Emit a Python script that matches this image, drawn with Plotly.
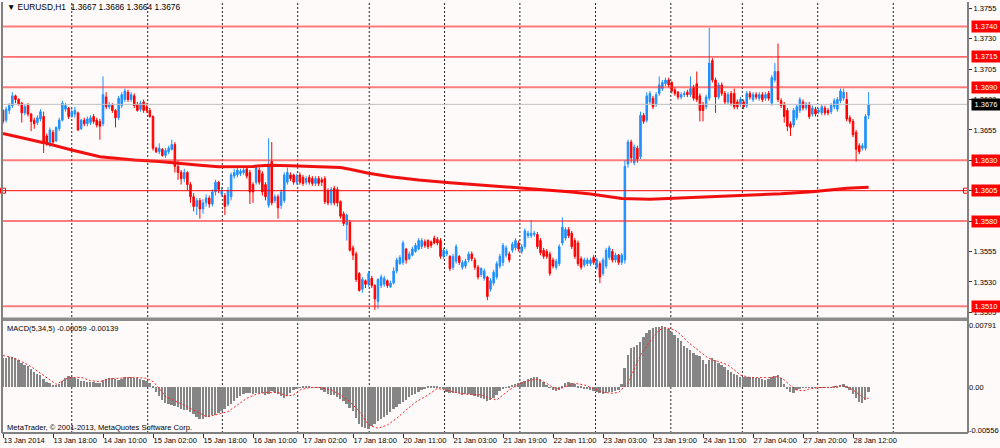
import plotly.graph_objects as go

# ---------------- DATA (prices in pips above 1.3500, MACD in 1e-5) ----------------
BASE = 1.35

open_pips = [
    171,163,171,175,183,180,177,169,175,168, 163,161,164,166,150,143,153,146,156,163,
    172,173,166,168,169,156,163,160,161,166, 163,162,160,182,174,175,171,165,175,180,
    186,180,183,176,172,178,174,171,166,140, 137,139,134,137,139,143,125,120,115,120,
    110,100,92,97,90,95,99,94,104,112, 102,101,94,100,117,118,119,120,123,120,
    110,112,122,119,110,93,129,97,100,93, 97,112,118,118,112,118,116,112,116,115,
    111,115,114,115,105,95,107,106,96,86, 77,79,58,53,37,24,31,28,33,27,
    14,27,28,31,26,29,39,45,46,57, 49,52,55,57,59,63,64,63,66,65,
    64,51,53,51,42,47,51,42,43,48, 53,48,42,36,33,34,24,29,34,43,
    46,52,53,56,58,62,55,59,68,68, 69,69,64,56,55,53,48,42,45,62,
    66,73,70,64,62,49,44,45,45,50, 42,45,37,43,50,55,48,52,46,48,
    127,145,128,140,133,167,163,178,181,176, 185,189,193,196,194,188,186,182,184,186,
    184,190,193,183,176,174,181,212,196,182, 192,185,178,185,185,178,176,178,175,185,
    180,184,181,184,181,185,177,196,203,179, 176,171,160,159,165,171,178,173,176,168,
    172,170,169,173,171,170,174,172,179,181, 180,165,162,153,142,140,140,167]

high_pips = [
    172,174,177,186,184,181,178,176,177,169, 165,167,172,170,152,157,155,158,165,179,
    177,174,172,174,170,164,165,166,167,168, 165,164,199,186,178,177,172,183,186,189,
    188,186,185,178,179,180,177,173,167,141, 144,140,140,142,147,145,130,122,123,121,
    112,103,99,99,98,102,101,106,114,113, 108,103,108,120,123,124,123,124,125,122,
    112,126,124,121,112,148,145,102,102,106, 120,124,120,119,119,120,118,117,118,117,
    117,117,116,117,107,108,109,108,97,88, 86,81,60,55,38,34,32,39,35,28,
    33,36,35,32,31,42,50,52,64,58, 55,59,62,66,66,65,65,64,68,67,
    66,58,57,52,53,61,52,48,49,55, 55,50,44,42,41,35,33,40,47,53,
    62,60,55,63,66,64,61,74,72,81, 72,71,66,58,57,55,50,49,61,83,
    75,75,72,66,64,51,50,50,50,52, 50,47,50,58,60,57,54,53,54,130,
    147,147,143,142,170,169,186,187,183,186, 199,196,198,198,195,190,187,186,187,188,
    199,192,203,185,178,184,239,214,198,194, 194,187,186,187,189,180,182,180,187,187,
    186,186,186,186,186,187,200,210,226,181, 178,173,162,173,176,182,180,178,178,175,
    174,173,176,175,173,177,181,182,189,189, 186,167,164,155,144,144,168,186]

low_pips = [
    160,161,168,173,177,175,161,167,166,154, 156,159,162,136,142,141,143,145,154,162,
    170,164,165,165,154,155,158,158,159,160, 157,147,158,172,172,169,157,163,173,178,
    178,178,173,170,170,169,169,165,138,136, 135,133,132,135,138,120,114,110,112,105,
    95,88,85,82,86,92,91,92,101,103, 100,85,92,97,115,116,117,118,115,94,
    95,110,110,101,97,91,93,95,82,90, 95,110,113,110,110,110,109,110,110,109,
    109,109,109,94,93,93,93,92,82,76, 64,55,48,30,22,21,25,26,25,7,
    8,25,26,25,25,28,37,44,44,45, 48,51,54,56,57,58,57,58,61,60,
    49,49,51,39,40,45,44,40,41,46, 47,40,32,34,31,15,22,27,32,41,
    43,50,46,54,56,55,53,57,66,66, 67,57,52,49,49,35,41,40,43,60,
    64,66,57,49,43,40,42,43,43,44, 40,29,35,41,48,46,46,44,44,45,
    124,128,126,128,131,160,161,176,172,174, 183,187,191,190,185,183,180,180,182,182,
    182,179,178,162,162,172,179,194,169,180, 183,176,176,175,172,172,174,172,173,180,
    178,180,179,178,179,179,175,194,178,173, 161,154,150,157,163,169,171,171,164,166,
    166,168,167,167,167,168,172,170,177,179, 162,160,149,129,135,138,138,164]

close_pips = [
    162,172,175,183,180,176,169,174,168,162, 160,165,170,145,144,155,145,157,163,177,
    175,166,170,171,155,163,160,164,165,162, 159,158,184,174,176,171,165,181,184,187,
    180,184,175,171,177,171,171,166,140,137, 140,134,138,140,143,125,120,115,120,110,
    100,92,97,90,95,99,94,104,112,106, 105,92,105,118,120,122,121,122,117,104,
    104,124,112,104,100,126,95,100,91,104, 118,120,115,112,117,112,111,115,112,111,
    115,111,112,96,95,106,95,95,84,78, 85,56,52,32,23,32,28,37,27,16,
    32,34,33,27,29,39,48,50,62,48, 53,57,60,64,64,60,59,60,62,62,
    51,56,55,41,51,59,46,46,47,53, 49,42,34,41,39,18,31,38,45,51,
    60,58,48,61,64,57,59,72,70,70, 70,59,54,51,51,37,43,47,59,75,
    73,68,59,51,45,42,48,48,48,46, 48,34,48,56,58,48,52,46,52,125,
    145,132,141,131,167,162,183,185,174,184, 192,194,196,192,187,185,182,184,185,184,
    189,181,180,171,171,182,210,196,182,192, 185,178,184,177,174,174,180,174,185,182,
    184,182,184,180,184,181,198,203,180,175, 166,158,157,171,174,180,173,176,166,173,
    168,171,174,169,169,175,179,180,187,186, 164,162,151,139,137,142,166,176]

# moving average (thick red line) read at selected bars
ma_bars = [0, 13, 22, 31, 42, 50, 63, 69, 80, 85, 92, 101, 108, 111, 117, 124, 133,
           143, 153, 162, 172, 181, 188, 194, 198, 207, 217, 227, 238, 249, 259, 270, 277]
ma_pips = [152, 144.5, 138.5, 133, 130.3, 129, 126, 124.7, 125, 126, 125.5, 124.7, 124,
           122.6, 119.3, 116.5, 113.8, 111.6, 109.7, 107.8, 106.4, 104.2, 102.3, 100,
           98.5, 98, 99, 100.5, 101.5, 102.5, 104.2, 107, 107.8]

# MACD(5,34,5) main histogram, 1e-5 units
macd_main = [
    372,372,385,385,372,351,317,287,270,235, 201,175,154,111,73,51,30,30,47,81,
    120,141,137,124,103,86,81,73,73,73, 60,51,98,107,116,116,107,90,107,128,
    137,133,124,120,103,94,86,51,21,-60, -111,-163,-197,-214,-223,-235,-257,-274,-287,-295,
    -312,-338,-377,-402,-407,-381,-377,-360,-351,-325, -300,-274,-244,-214,-171,-137,-111,-90,-77,-68,
    -86,-73,-68,-73,-98,-81,-51,-56,-81,-111, -137,-116,-73,-34,-13,-3,4,4,4,2,
    -2,-9,-30,-60,-86,-98,-103,-124,-146,-180, -218,-261,-308,-398,-471,-509,-522,-531,-492,-475,
    -432,-411,-385,-351,-321,-278,-248,-214,-188,-158, -128,-103,-86,-56,-34,-13,4,17,21,10,
    -5,-13,-64,-77,-68,-68,-77,-94,-90,-86, -94,-111,-124,-133,-146,-171,-163,-141,-98,-47,
    -21,-4,17,30,47,56,68,86,107,120, 133,133,103,68,30,-3,-30,-43,-38,4,
    51,68,60,43,17,4,-13,-21,-34,-47, -64,-77,-90,-77,-64,-64,-51,-30,38,244,
    415,500,522,539,586,650,702,736,758,770, 779,791,770,745,710,676,638,595,535,509,
    475,445,415,398,355,304,351,377,355,312, 282,257,218,193,175,154,137,137,137,128,
    128,124,124,111,98,103,128,150,154,116, 47,-17,-56,-68,-38,-17,-4,-4,-4,-4,
    -4,-4,-4,-9,-9,2,13,21,30,43, 17,-30,-86,-141,-188,-201,-163,-59]

# MACD signal line read at selected bars, 1e-5 units
sig_bars = [0,2,5,9,12,15,17,19,21,25, 28,31,34,37,42,46,48,50,52,56,
            59,62,65,68,72,75,78,81,84,88, 91,93,95,98,101,105,108,111,114,117,
            120,123,126,129,132,136,139,143,146,149, 153,156,158,160,162,165,169,171,174,176,
            178,180,183,186,189,192,195,197,200,202, 204,207,210,212,215,217,219,221,223,225,
            227,229,232,234,236,239,242,245,248,250, 252,254,256,258,261,265,268,270,272,274,
            276,277]
sig_vals = [407,394,351,265,180,94,39,81,124,128, 86,73,107,116,128,116,73,-13,-120,-193,
            -248,-312,-377,-355,-312,-227,-141,-90,-64,-68, -111,-98,-34,-4,0,-34,-98,-184,-312,-484,
            -526,-484,-398,-291,-193,-98,-13,-47,-77,-90, -98,-141,-163,-98,-34,39,94,103,51,-4,
            -21,9,51,30,-21,-64,-77,-64,51,244, 415,586,736,766,736,672,586,522,458,394,
            351,330,287,223,158,124,124,124,137,94, 21,-34,-47,-21,-4,0,21,9,-34,-98,
            -150,-139]

# x-axis labels (every 16 bars) and day-start grid positions (bar units)
tick_labels = ["13 Jan 2014", "13 Jan 18:00", "14 Jan 10:00", "15 Jan 02:00", "15 Jan 18:00",
               "16 Jan 10:00", "17 Jan 02:00", "17 Jan 18:00", "20 Jan 11:00", "21 Jan 03:00",
               "21 Jan 19:00", "22 Jan 11:00", "23 Jan 03:00", "23 Jan 19:00", "24 Jan 11:00",
               "27 Jan 04:00", "27 Jan 20:00", "28 Jan 12:00"]
tick_bars = [16 * k for k in range(len(tick_labels))]
day_start_bars = [22.0, 46.3, 70.2, 94.3, 117.2, 141.3, 165.4, 189.6, 213.7, 236.6, 260.7, 284.9]

price_ticks = [1.3505, 1.3530, 1.3555, 1.3580, 1.3605, 1.3630, 1.3655, 1.3680, 1.3705, 1.3730, 1.3755]
level_lines_light = [1.3740, 1.3690, 1.3630, 1.3580, 1.3510]
level_lines_dark = [1.3715, 1.3605]
last_price = 1.3676
macd_ticks = [-0.00556, 0.0, 0.00791]
macd_tick_text = ["-0.00556", "0.00", "0.00791"]

header_text = "\u25BC EURUSD,H1  1.3667 1.3686 1.3664 1.3676"
macd_text = "MACD(5,34,5) -0.00059 -0.00139"
copyright_text = "MetaTrader, \u00A9 2001-2013, MetaQuotes Software Corp."

# ---------------- FIGURE ----------------
W, H = 1000, 448
ML, MR, MT, MB = 2, 32, 2, 15
PW, PH = W - ML - MR, H - MT - MB


def px_x(p):
    return (p - ML) / PW


def px_y(p):
    return (H - MB - p) / PH


n = len(close_pips)
bars = list(range(n))
opens = [BASE + v / 1e4 for v in open_pips]
closes = [BASE + v / 1e4 for v in close_pips]
highs = [BASE + max(h, o, c) / 1e4 for h, o, c in zip(high_pips, open_pips, close_pips)]
lows = [BASE + min(l, o, c) / 1e4 for l, o, c in zip(low_pips, open_pips, close_pips)]

FONT = "Liberation Sans, Arial, sans-serif"
BG = "#FFFAFA"

fig = go.Figure()
fig.add_trace(go.Candlestick(
    x=bars, open=opens, high=highs, low=lows, close=closes,
    xaxis="x", yaxis="y", whiskerwidth=0, hoverinfo="skip",
    increasing=dict(line=dict(color="#1E90FF", width=1), fillcolor="#1E90FF"),
    decreasing=dict(line=dict(color="#FF0000", width=1), fillcolor="#FF0000"),
))
fig.add_trace(go.Scatter(
    x=ma_bars, y=[BASE + v / 1e4 for v in ma_pips], mode="lines",
    line=dict(color="#F01010", width=3), xaxis="x", yaxis="y", hoverinfo="skip"))
fig.add_trace(go.Bar(
    x=bars, y=[v / 1e5 for v in macd_main], width=0.62,
    marker=dict(color="#858585", line=dict(width=0)), xaxis="x", yaxis="y2", hoverinfo="skip"))
fig.add_trace(go.Scatter(
    x=sig_bars, y=[v / 1e5 for v in sig_vals], mode="lines",
    line=dict(color="#FF2020", width=1, dash="2px,2px"), xaxis="x", yaxis="y2", hoverinfo="skip"))

main_bottom = px_y(317)
macd_top = px_y(321)
y_top = 1.3755 + (8.3 - MT) / 12160
y_bot = 1.3755 - (317 - 8.3) / 12160
m_scale = 7788.0
m_top = (387.3 - 321) / m_scale
m_bot = -(H - MB - 387.3) / m_scale

shapes = []
for g in day_start_bars:
    shapes.append(dict(type="line", xref="x", yref="paper", x0=g, x1=g, y0=0, y1=1,
                       line=dict(color="#222222", width=1, dash="2px,2px"), layer="below"))
for lv in level_lines_light:
    shapes.append(dict(type="line", xref="paper", yref="y", x0=0, x1=1, y0=lv, y1=lv,
                       line=dict(color="rgba(255,40,40,0.6)", width=2), layer="above"))
for lv in level_lines_dark:
    shapes.append(dict(type="line", xref="paper", yref="y", x0=0, x1=1, y0=lv, y1=lv,
                       line=dict(color="#FF0000", width=1), layer="above"))
shapes.append(dict(type="line", xref="paper", yref="y", x0=0, x1=1, y0=last_price, y1=last_price,
                   line=dict(color="#C0C0C0", width=1), layer="above"))
# small square handles on the 1.3605 line
sq = 2.5 / 12160
for xp in (3, 966):
    shapes.append(dict(type="rect", xref="paper", yref="y", x0=px_x(xp - 2.5), x1=px_x(xp + 2.5),
                       y0=1.3605 - sq, y1=1.3605 + sq, line=dict(color="#FF0000", width=1),
                       fillcolor="rgba(0,0,0,0)", layer="above"))
# frame lines and panel separator
shapes.append(dict(type="rect", xref="paper", yref="paper", x0=0, x1=1, y0=px_y(321), y1=px_y(317.5),
                   fillcolor="#8C8C8C", line=dict(width=0), layer="above"))
shapes.append(dict(type="line", xref="paper", yref="paper", x0=0, x1=0, y0=0, y1=1,
                   line=dict(color="#808080", width=2), layer="above"))
shapes.append(dict(type="line", xref="paper", yref="paper", x0=1, x1=1, y0=0, y1=1,
                   line=dict(color="#808080", width=2), layer="above"))
shapes.append(dict(type="line", xref="paper", yref="paper", x0=0, x1=1, y0=0, y1=0,
                   line=dict(color="#808080", width=2), layer="above"))

annotations = [
    dict(text=header_text, xref="paper", yref="paper", x=px_x(5), y=px_y(7), xanchor="left",
         yanchor="middle", showarrow=False, font=dict(family=FONT, size=8.4, color="black")),
    dict(text=macd_text, xref="paper", yref="paper", x=px_x(5), y=px_y(328.5), xanchor="left",
         yanchor="middle", showarrow=False, font=dict(family=FONT, size=7.5, color="black")),
    dict(text=copyright_text, xref="paper", yref="paper", x=px_x(5), y=px_y(427.5), xanchor="left",
         yanchor="middle", showarrow=False, font=dict(family=FONT, size=7.6, color="black")),
]
for lv in sorted(level_lines_light + level_lines_dark):
    annotations.append(dict(text=f"{lv:.4f}", xref="paper", yref="y", x=px_x(970.5), y=lv,
                            xanchor="left", yanchor="middle", showarrow=False, bgcolor="#FF0000",
                            borderpad=1, width=26, font=dict(family=FONT, size=7.5, color="white")))
annotations.append(dict(text=f"{last_price:.4f}", xref="paper", yref="y", x=px_x(970.5), y=last_price,
                        xanchor="left", yanchor="middle", showarrow=False, bgcolor="#000000",
                        borderpad=1, width=26, font=dict(family=FONT, size=7.5, color="white")))

tickfont = dict(family=FONT, size=7.5, color="black")
fig.update_layout(
    width=W, height=H, margin=dict(l=ML, r=MR, t=MT, b=MB),
    paper_bgcolor=BG, plot_bgcolor=BG, showlegend=False, bargap=0,
    xaxis=dict(domain=[0, 1], range=[(ML + 0 - 3) / 3.125, (ML + PW - 3) / 3.125], anchor="y2",
               showgrid=False, zeroline=False, rangeslider=dict(visible=False),
               tickmode="array", tickvals=tick_bars, ticktext=tick_labels, tickangle=0,
               ticks="outside", ticklen=4, tickcolor="#333333", tickfont=tickfont,
               ticklabelposition="outside right", showline=False),
    yaxis=dict(domain=[main_bottom, 1], range=[y_bot, y_top], side="right", anchor="x",
               showgrid=False, zeroline=False, tickmode="array", tickvals=price_ticks,
               ticktext=[f"{v:.4f}" for v in price_ticks], ticks="outside", ticklen=3,
               tickcolor="#333333", tickfont=tickfont, showline=False),
    yaxis2=dict(domain=[0, macd_top], range=[m_bot, m_top], side="right", anchor="x",
                showgrid=False, zeroline=False, tickmode="array", tickvals=macd_ticks,
                ticktext=macd_tick_text, ticks="", tickfont=tickfont, showline=False),
    shapes=shapes, annotations=annotations,
)

fig.write_html("out.html", config={"displayModeBar": False},
               post_script="document.body.style.margin='0';document.body.style.overflow='hidden';")
